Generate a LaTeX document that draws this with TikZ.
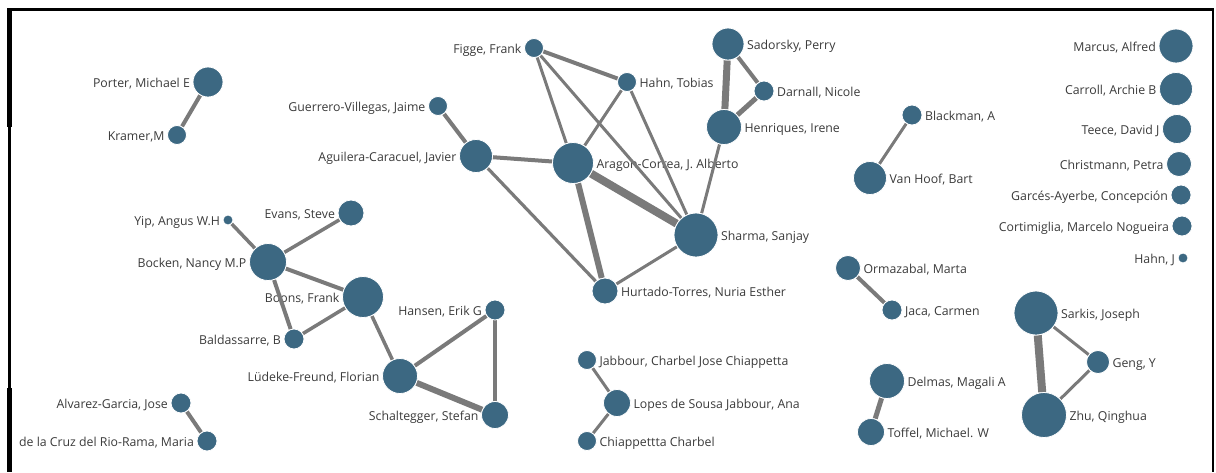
\documentclass[tikz,border=0pt]{standalone}
\usepackage{fontspec}
\setmainfont{Open Sans}
\definecolor{nb}{RGB}{60,104,130}
\definecolor{eg}{RGB}{122,122,122}
\definecolor{tx}{RGB}{58,58,58}
\pgfdeclarelayer{lab}\pgfdeclarelayer{edg}\pgfsetlayers{lab,edg,main}
\begin{document}
\begin{tikzpicture}[x=1pt,y=-1pt,
  pn/.style={circle,fill=nb,draw=white,line width=0.8pt,inner sep=0pt,minimum size=#1},
  lbl/.style={inner sep=0pt,font=\fontsize{12.3}{14}\selectfont,text=tx,text height=11pt,text depth=0pt},
  lt/.style={lbl,anchor=east,xshift=-2.5pt},
  rt/.style={lbl,anchor=west,xshift=2.5pt},
  ed/.style={draw=eg,line width=#1},
  ed/.default=3.5pt,
  frame/.style={draw=black,line cap=butt}]
\useasboundingbox (0,0) rectangle (1216,472);
% frame
\draw[frame,line width=3pt] (7,9) -- (1214,9);
\draw[frame,line width=4.5pt] (9.5,8) -- (9.5,127);
\draw[frame,line width=2.5pt] (9.5,127) -- (9.5,388);
\draw[frame,line width=4.5pt] (9.5,388) -- (9.5,472);
\draw[frame,line width=2.5pt] (1213,8) -- (1213,472);
% nodes
\node[pn=30pt] (porter) at (208,82) {};
\node[pn=19pt] (kramer) at (177,135) {};
\node[pn=19pt] (guerrero) at (438,106) {};
\node[pn=33pt] (aguilera) at (476,156) {};
\node[pn=19pt] (figge) at (534,48) {};
\node[pn=19pt] (hahnt) at (627,82) {};
\node[pn=41pt] (aragon) at (573,163) {};
\node[pn=32pt] (sadorsky) at (728,44) {};
\node[pn=20pt] (darnall) at (764,91) {};
\node[pn=35pt] (henriques) at (724,127) {};
\node[pn=44pt] (sharma) at (696,235) {};
\node[pn=26pt] (hurtado) at (605,291) {};
\node[pn=20pt] (blackman) at (912,115) {};
\node[pn=33pt] (vanhoof) at (870,178) {};
\node[pn=34pt] (marcus) at (1176,46) {};
\node[pn=33pt] (carroll) at (1176,89) {};
\node[pn=29pt] (teece) at (1177,129) {};
\node[pn=25pt] (christmann) at (1179,164) {};
\node[pn=20pt] (garces) at (1181,195) {};
\node[pn=20pt] (cortimiglia) at (1182,226) {};
\node[pn=10pt] (hahnj) at (1183,258) {};
\node[pn=10pt] (yip) at (228,220) {};
\node[pn=26pt] (evans) at (351,213) {};
\node[pn=37pt] (bocken) at (268,262) {};
\node[pn=41pt] (boons) at (363,297) {};
\node[pn=20pt] (baldassarre) at (294,339) {};
\node[pn=20pt] (hansen) at (495,310) {};
\node[pn=35pt] (ludeke) at (400,376) {};
\node[pn=27pt] (schaltegger) at (495,415) {};
\node[pn=20pt] (alvarez) at (181,403) {};
\node[pn=20pt] (delacruz) at (207,441) {};
\node[pn=25pt] (ormazabal) at (848,268) {};
\node[pn=20pt] (jaca) at (892,310) {};
\node[pn=44pt] (sarkis) at (1036,313) {};
\node[pn=23pt] (geng) at (1098,362) {};
\node[pn=45pt] (zhu) at (1044,415) {};
\node[pn=19pt] (jabbour) at (587,360) {};
\node[pn=27pt] (lopes) at (617,403) {};
\node[pn=19pt] (chiap) at (587,441) {};
\node[pn=35pt] (delmas) at (887,381) {};
\node[pn=27pt] (toffel) at (871,432) {};
% labels
\begin{pgfonlayer}{lab}
\node[lt] (lporter) at (porter.west) {Porter, Michael E};
\node[lt] (lkramer) at (kramer.west) {Kramer,M};
\node[lt] (lguerrero) at (guerrero.west) {Guerrero-Villegas, Jaime};
\node[lt] (laguilera) at (aguilera.west) {Aguilera-Caracuel, Javier};
\node[lt] (lfigge) at (figge.west) {Figge, Frank};
\node[rt] (lhahnt) at (hahnt.east) {Hahn, Tobias};
\node[rt] (laragon) at (aragon.east) {Aragon-Correa, J. Alberto};
\node[rt] (lsadorsky) at (sadorsky.east) {Sadorsky, Perry};
\node[rt] (ldarnall) at (darnall.east) {Darnall, Nicole};
\node[rt] (lhenriques) at (henriques.east) {Henriques, Irene};
\node[rt] (lsharma) at (sharma.east) {Sharma, Sanjay};
\node[rt] (lhurtado) at (hurtado.east) {Hurtado-Torres, Nuria Esther};
\node[rt] (lblackman) at (blackman.east) {Blackman, A};
\node[rt] (lvanhoof) at (vanhoof.east) {Van Hoof, Bart};
\node[lt] (lmarcus) at (marcus.west) {Marcus, Alfred};
\node[lt] (lcarroll) at (carroll.west) {Carroll, Archie B};
\node[lt] (lteece) at (teece.west) {Teece, David J};
\node[lt] (lchristmann) at (christmann.west) {Christmann, Petra};
\node[lt] (lgarces) at (garces.west) {Garcés-Ayerbe, Concepción};
\node[lt] (lcortimiglia) at (cortimiglia.west) {Cortimiglia, Marcelo Nogueira};
\node[lt] (lhahnj) at (hahnj.west) {Hahn, J};
\node[lt] (lyip) at (yip.west) {Yip, Angus W.H};
\node[lt] (levans) at (evans.west) {Evans, Steve};
\node[lt] (lbocken) at (bocken.west) {Bocken, Nancy M.P};
\node[lt] (lboons) at (boons.west) {Boons, Frank};
\node[lt] (lbaldassarre) at (baldassarre.west) {Baldassarre, B};
\node[lt] (lhansen) at (hansen.west) {Hansen, Erik G};
\node[lt] (lludeke) at (ludeke.west) {Lüdeke-Freund, Florian};
\node[lt] (lschaltegger) at (schaltegger.west) {Schaltegger, Stefan};
\node[lt] (lalvarez) at (alvarez.west) {Alvarez-Garcia, Jose};
\node[lt] (ldelacruz) at (delacruz.west) {de la Cruz del Rio-Rama, Maria};
\node[rt] (lormazabal) at (ormazabal.east) {Ormazabal, Marta};
\node[rt] (ljaca) at (jaca.east) {Jaca, Carmen};
\node[rt] (lsarkis) at (sarkis.east) {Sarkis, Joseph};
\node[rt] (lgeng) at (geng.east) {Geng, Y};
\node[rt] (lzhu) at (zhu.east) {Zhu, Qinghua};
\node[rt] (ljabbour) at (jabbour.east) {Jabbour, Charbel Jose Chiappetta};
\node[rt] (llopes) at (lopes.east) {Lopes de Sousa Jabbour, Ana};
\node[rt] (lchiap) at (chiap.east) {Chiappettta Charbel};
\node[rt] (ldelmas) at (delmas.east) {Delmas, Magali A};
\node[rt] (ltoffel) at (toffel.east) {Toffel, Michael. W};
\end{pgfonlayer}
% edges
\begin{pgfonlayer}{edg}
\draw[ed=4pt] (porter) -- (kramer);
\draw[ed=4pt] (guerrero) -- (aguilera);
\draw[ed=4pt] (aguilera) -- (aragon);
\draw[ed=3.2pt] (aguilera) -- (hurtado);
\draw[ed=4pt] (figge) -- (hahnt);
\draw[ed=3pt] (figge) -- (aragon);
\draw[ed=3pt] (figge) -- (sharma);
\draw[ed=3pt] (hahnt) -- (aragon);
\draw[ed=3pt] (hahnt) -- (sharma);
\draw[ed=8pt] (aragon) -- (sharma);
\draw[ed=6pt] (aragon) -- (hurtado);
\draw[ed=3pt] (hurtado) -- (sharma);
\draw[ed=3pt] (henriques) -- (sharma);
\draw[ed=7pt] (sadorsky) -- (henriques);
\draw[ed=4pt] (sadorsky) -- (darnall);
\draw[ed=5pt] (darnall) -- (henriques);
\draw[ed=3pt] (blackman) -- (vanhoof);
\draw[ed=3.5pt] (yip) -- (bocken);
\draw[ed=3.5pt] (evans) -- (bocken);
\draw[ed=4pt] (bocken) -- (boons);
\draw[ed=4pt] (bocken) -- (baldassarre);
\draw[ed=3.5pt] (baldassarre) -- (boons);
\draw[ed=3.5pt] (boons) -- (ludeke);
\draw[ed=4pt] (ludeke) -- (hansen);
\draw[ed=6pt] (ludeke) -- (schaltegger);
\draw[ed=4pt] (hansen) -- (schaltegger);
\draw[ed=4pt] (alvarez) -- (delacruz);
\draw[ed=4pt] (ormazabal) -- (jaca);
\draw[ed=3pt] (sarkis) -- (geng);
\draw[ed=8pt] (sarkis) -- (zhu);
\draw[ed=3pt] (geng) -- (zhu);
\draw[ed=3pt] (jabbour) -- (lopes);
\draw[ed=3pt] (lopes) -- (chiap);
\draw[ed=5pt] (delmas) -- (toffel);
\end{pgfonlayer}
\end{tikzpicture}
\end{document}
